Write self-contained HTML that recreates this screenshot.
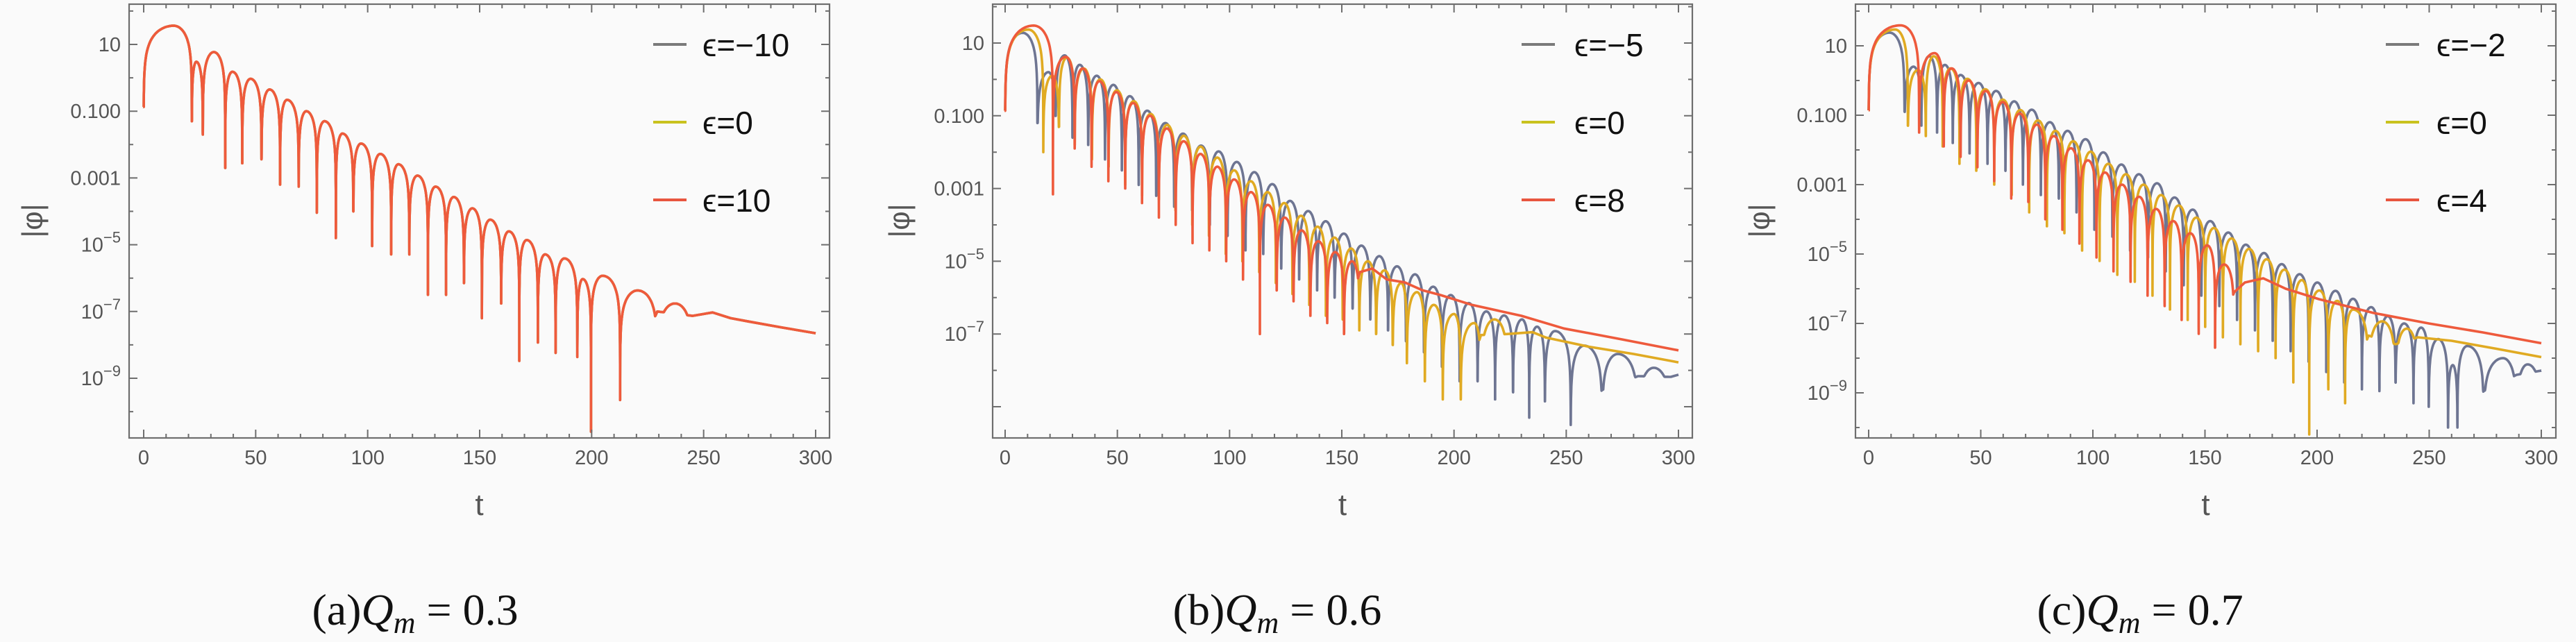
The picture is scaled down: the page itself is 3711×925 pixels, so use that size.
<!DOCTYPE html>
<html><head><meta charset="utf-8"><style>
html,body{margin:0;padding:0;background:#fafafa;}
svg{display:block;}
</style></head><body>
<svg id="fig" xmlns="http://www.w3.org/2000/svg" width="3711" height="925" viewBox="0 0 3711 925">
<rect x="0" y="0" width="3711" height="925" fill="#fafafa"/>
<g font-family="'Liberation Serif', serif" font-size="64" fill="#111" text-anchor="middle">
<text x="598" y="900">(a)<tspan font-style="italic">Q</tspan><tspan font-style="italic" font-size="44" dy="12">m</tspan><tspan dy="-12"> = 0.3</tspan></text></g>
<g font-family="'Liberation Serif', serif" font-size="64" fill="#111" text-anchor="middle">
<text x="1840" y="900">(b)<tspan font-style="italic">Q</tspan><tspan font-style="italic" font-size="44" dy="12">m</tspan><tspan dy="-12"> = 0.6</tspan></text></g>
<g font-family="'Liberation Serif', serif" font-size="64" fill="#111" text-anchor="middle">
<text x="3083" y="900">(c)<tspan font-style="italic">Q</tspan><tspan font-style="italic" font-size="44" dy="12">m</tspan><tspan dy="-12"> = 0.7</tspan></text></g>
</svg>
<script>
// ---------- data (t, log10|phi|) ----------
// Panel a (all three eps overlap)
const aZeroT=[0,21.5,26.4,36.4,44,52.6,60.9,69.2,77.3,85.8,93.6,102,110.5,118.6,126.9,135,143,151,159.6,167.7,176,183.9,193.6,199.7,212.7,229.3,245];
const aDipV=[-0.87,-1.3,-1.7,-2.7,-2.56,-2.44,-3.2,-3.26,-4.04,-4.8,-4.0,-5.04,-5.29,-5.29,-6.5,-6.5,-6.15,-7.2,-6.76,-8.48,-7.93,-8.24,-8.36,-10.6,-9.65,-7.0,-7.13];
const aPeakT=[13.4,23.5,31.3,39.6,47.7,56.2,64,72.6,80.7,88.7,97,105.6,113.7,122.2,130.3,138.4,146.7,154.7,163,171,179.2,187.8,196,204.9,220.5,237.2];
const aPeakV=[1.56,0.48,0.77,0.18,-0.03,-0.35,-0.66,-1.0,-1.3,-1.67,-1.97,-2.28,-2.59,-2.93,-3.26,-3.57,-3.91,-4.25,-4.6,-4.86,-5.29,-5.41,-6.03,-5.93,-6.37,-6.76];
const aTailT=[245,254,262,270,285,300];
const aTailV=[-7.13,-7.03,-7.2,-7.3,-7.48,-7.65];

// Panel b, eps=-5
const bGZeroT=[0,14.4,22.5,30,37,44.5,52,59.5,67.3,75.3,83.3,91.2,99.1,107.1,115,123,131,139,146.8,154.8,162.7,170.6,178.6,186.6,194.6,202.5,210.5,218.3,226.3,233.5,240.5,252,266,282,296.6];
const bGDipV=[-0.86,-1.2,-1.0,-1.6,-1.8,-2.2,-2.5,-2.9,-3.2,-3.5,-3.6,-4.0,-4.3,-4.7,-4.8,-5.2,-5.5,-5.8,-6.0,-6.3,-6.6,-6.9,-7.2,-7.5,-7.9,-8.3,-8.3,-8.8,-8.6,-9.3,-8.85,-9.5,-8.54,-8.16,-8.18];
const bGPeakT=[7.8,19.3,26.5,33.2,40.8,48.2,55.5,63.3,71.4,79.2,87.3,95.1,103.2,111,119,126.9,135,142.8,150.9,158.7,166.7,174.6,182.6,190.7,198.5,206.6,214.4,222.3,230.3,237,245,258,273,289];
const bGPeakV=[1.28,0.2,0.66,0.4,0.1,-0.15,-0.46,-0.86,-1.2,-1.49,-1.82,-1.98,-2.27,-2.55,-2.88,-3.34,-3.62,-3.9,-4.24,-4.57,-4.86,-5.14,-5.36,-5.7,-5.93,-6.15,-6.38,-6.49,-6.6,-6.8,-6.92,-7.32,-7.55,-7.93];
const bGTailT=[296.6,300];
const bGTailV=[-8.18,-8.12];
// Panel b, eps=0
const bYZeroT=[0,17,24,31,38.7,46.1,53.5,61,68.5,75.9,83.4,90.8,98.3,105.7,113.2,120.6,128,135.5,142.9,150.4,157.8,165.3,172.7,179,187,195,203,212,224];
const bYDipV=[-0.86,-2.0,-1.3,-1.8,-2.2,-2.4,-2.9,-3.2,-3.3,-3.6,-4.0,-4.3,-4.8,-5.0,-5.3,-5.6,-5.9,-6.2,-6.5,-6.6,-6.9,-7.0,-7.3,-7.8,-8.3,-8.8,-8.8,-7.03,-7.0];
const bYPeakT=[10.3,21,27.5,35,42.4,49.8,57.3,64.8,72.2,79.6,87.1,94.5,102,109.4,116.9,124.3,131.8,139.2,146.7,154.1,161.6,169,176.5,183.5,191,200,209,218];
const bYPeakV=[1.37,0.1,0.6,0.3,0.0,-0.3,-0.6,-0.95,-1.25,-1.55,-1.85,-2.15,-2.5,-2.8,-3.1,-3.4,-3.75,-4.05,-4.35,-4.65,-5.0,-5.25,-5.6,-5.85,-6.2,-6.45,-6.7,-6.6];
const bYTailT=[224,235,241,260,280,300];
const bYTailV=[-7.0,-6.95,-7.1,-7.35,-7.55,-7.78];
// Panel b, eps=8
const bRZeroT=[0,21.3,31,38.5,46,53.5,61,68.5,76,83.5,91,98.5,106,113.5,121,128.5,136,143.5,151,158];
const bRDipV=[-0.86,-3.16,-1.9,-2.4,-2.8,-3.0,-3.4,-3.8,-4.0,-4.5,-4.7,-5.0,-5.5,-7.0,-5.8,-6.1,-6.5,-6.7,-7.0,-5.3];
const bRPeakT=[12.7,27,34.5,42,49.5,57,64.5,72,79.5,87,94.5,102,109.5,117,124.5,132,139.5,147,154.5];
const bRPeakV=[1.48,0.62,0.3,-0.05,-0.35,-0.65,-1.0,-1.35,-1.7,-2.05,-2.4,-2.75,-3.1,-3.45,-3.8,-4.15,-4.45,-4.75,-5.0];
const bRTailT=[158,163.6,170,178,186,194,208,230,249,275,300];
const bRTailV=[-5.3,-5.2,-5.5,-5.58,-5.8,-5.93,-6.2,-6.5,-6.85,-7.15,-7.45];

// Panel c, eps=-2
const cGZeroT=[0,16,23.5,30.5,37.5,45,53,61,68.8,76.8,84.8,92.7,100.7,108.7,116.6,124.6,132.5,140.5,148.4,156.4,164.3,172.3,180.2,188.2,196.2,204.1,212.1,220,227.8,235,243,249.8,258.4,262.6,274.3,289,300];
const cGDipV=[-0.86,-0.9,-1.3,-1.5,-1.8,-2.1,-2.4,-2.6,-3.0,-3.3,-3.4,-3.8,-4.3,-4.5,-4.9,-5.1,-5.5,-5.9,-6.2,-6.5,-6.9,-7.2,-7.5,-7.8,-8.1,-8.4,-8.7,-8.9,-8.95,-8.7,-9.3,-9.4,-10.0,-10.0,-8.95,-8.48,-8.36];
const cGPeakT=[9.3,20,27,34,41,49,56.8,64.9,72.7,80.8,88.7,96.7,104.6,112.7,120.5,128.6,136.4,144.5,152.3,160.4,168.2,176.3,184.2,192.2,200.1,208.2,216,224.1,231.5,238.8,246.4,254,260.5,267,282.9,293.9];
const cGPeakV=[1.38,0.4,0.7,0.45,0.16,-0.07,-0.3,-0.6,-0.84,-1.2,-1.45,-1.69,-2.07,-2.42,-2.7,-2.96,-3.37,-3.72,-4.05,-4.38,-4.73,-4.97,-5.29,-5.58,-5.82,-6.06,-6.29,-6.53,-6.79,-7.0,-7.12,-7.45,-8.2,-7.65,-8.0,-8.18];
const cGTailT=[300];
const cGTailV=[-8.36];
// Panel c, eps=0
const cYZeroT=[0,17.5,25.5,33,40.5,48,56,63.8,71.6,79.5,87.3,95.2,103,110.9,118.7,126.6,134.4,142.3,150.1,158,165.8,173.7,181.5,189.4,196.5,205,212.5,222.9,235,245];
const cYDipV=[-0.86,-1.3,-1.6,-1.9,-2.4,-2.6,-3.0,-3.3,-3.8,-4.2,-4.4,-4.9,-5.2,-5.6,-5.8,-6.2,-6.6,-6.9,-7.1,-7.4,-7.6,-7.8,-8.0,-8.7,-10.2,-8.9,-9.3,-7.35,-7.6,-7.4];
const cYPeakT=[11.8,22,29,36.5,44,52,59.8,67.6,75.5,83.3,91.2,99,106.9,114.7,122.6,130.4,138.3,146.1,154,161.8,169.7,177.5,185.4,193.2,201,209,216,229,240];
const cYPeakV=[1.47,0.3,0.7,0.35,0.05,-0.25,-0.55,-0.85,-1.15,-1.45,-1.75,-2.05,-2.4,-2.7,-3.0,-3.3,-3.6,-3.95,-4.25,-4.55,-4.85,-5.15,-5.45,-5.75,-6.05,-6.35,-6.6,-6.94,-7.15];
const cYTailT=[245,260,280,300];
const cYTailV=[-7.4,-7.5,-7.73,-7.97];
// Panel c, eps=4
const cRZeroT=[0,22.5,33.5,41,48.5,56,63.6,71.2,78.8,86.4,94,101.6,109.2,116.8,124.4,132,139.6,147.2,154.5,163];
const cRDipV=[-0.86,-1.5,-1.9,-2.2,-2.5,-2.9,-3.4,-3.5,-4.0,-4.3,-4.7,-5.1,-5.5,-5.8,-6.2,-6.5,-6.9,-7.3,-7.7,-6.1];
const cRPeakT=[14.2,29.4,37,44.6,52.2,59.8,67.4,75,82.6,90.2,97.8,105.4,113,120.6,128.2,135.8,143.4,151,158.5];
const cRPeakV=[1.59,0.79,0.35,0.0,-0.3,-0.62,-0.95,-1.27,-1.6,-1.95,-2.3,-2.65,-3.0,-3.35,-3.7,-4.05,-4.4,-4.75,-5.3];
const cRTailT=[163,167.8,176,186,200.8,225.3,249.8,274,300];
const cRTailV=[-6.1,-5.82,-5.7,-6.0,-6.3,-6.7,-7.0,-7.26,-7.57];

const xTicks=[0,50,100,150,200,250,300];
const yTickExp=[1,-1,-3,-5,-7,-9];
const legendA=["ϵ=−10","ϵ=0","ϵ=10"];
const legendB=["ϵ=−5","ϵ=0","ϵ=8"];
const legendC=["ϵ=−2","ϵ=0","ϵ=4"];

// ---------- layout ----------
const NS="http://www.w3.org/2000/svg";
const svg=document.getElementById('fig');
const COLORS=["#6e7592","#e0aa22","#ee5a3c"];
const LEGCOL=["#7a7a7a","#c9c21e","#e8553f"];
const panels=[
 {id:'a',L:186,T:6,R:1195,B:631,x0:207,x1:1175,y1:64,dec:48.1,yLabX:50,legLine:254,legText:183,labels:[1,-1,-3,-5,-7,-9],leg:legendA,
  series:[[aZeroT,aDipV,aPeakT,aPeakV,aTailT,aTailV],[aZeroT,aDipV,aPeakT,aPeakV,aTailT,aTailV],[aZeroT,aDipV,aPeakT,aPeakV,aTailT,aTailV]]},
 {id:'b',L:1430,T:6,R:2438,B:631,x0:1448,x1:2418,y1:62,dec:52.4,yLabX:1299,legLine:246,legText:170,labels:[1,-1,-3,-5,-7],leg:legendB,
  series:[[bGZeroT,bGDipV,bGPeakT,bGPeakV,bGTailT,bGTailV],[bYZeroT,bYDipV,bYPeakT,bYPeakV,bYTailT,bYTailV],[bRZeroT,bRDipV,bRPeakT,bRPeakV,bRTailT,bRTailV]]},
 {id:'c',L:2673,T:6,R:3682,B:631,x0:2692,x1:3661,y1:66,dec:50,yLabX:2538,legLine:245,legText:172,labels:[1,-1,-3,-5,-7,-9],leg:legendC,
  series:[[cGZeroT,cGDipV,cGPeakT,cGPeakV,cGTailT,cGTailV],[cYZeroT,cYDipV,cYPeakT,cYPeakV,cYTailT,cYTailV],[cRZeroT,cRDipV,cRPeakT,cRPeakV,cRTailT,cRTailV]]}
];
function mk(tag,parent){const e=document.createElementNS(NS,tag);parent.appendChild(e);return e;}

panels.forEach(p=>{
 const xs=t=>p.x0+(t/300)*(p.x1-p.x0);
 const ys=v=>p.y1+(1-v)*p.dec;
 const g=mk('g',svg);
 
 
 const defs=mk('defs',g);
 const cp=mk('clipPath',defs);cp.setAttribute('id','clip-'+p.id);
 const cr=mk('rect',cp);cr.setAttribute('x',p.L);cr.setAttribute('y',p.T);cr.setAttribute('width',p.R-p.L);cr.setAttribute('height',p.B-p.T);
 // series
 const sg=mk('g',g);sg.setAttribute('clip-path','url(#clip-'+p.id+')');
 
 
 p.series.forEach((s,si)=>{
  const [Z,D,PT,PV,TT,TV]=s;
  const pts=[];
  for(let i=0;i<PT.length;i++){
   const a=Z[i],b=Z[i+1],m=PT[i],pk=PV[i],fa=D[i],fb=D[i+1];
   const N=30;
   for(let k=0;k<=N;k++){
    const sN=k/N;const t=a+(m-a)*(1-Math.cos(sN*Math.PI/2));
    const u=0.5*(t-a)/(m-a);
    let v=pk+Math.log10(Math.max(Math.sin(Math.PI*u),1e-14));
    const fl=fa+(fb-fa)*(t-a)/(b-a);v=Math.max(v,fl);pts.push([t,v]);
   }
   for(let k=1;k<=N;k++){
    const sN=k/N;const t=m+(b-m)*Math.sin(sN*Math.PI/2);
    const u=0.5+0.5*(t-m)/(b-m);
    let v=pk+Math.log10(Math.max(Math.sin(Math.PI*u),1e-14));
    const fl=fa+(fb-fa)*(t-a)/(b-a);v=Math.max(v,fl);pts.push([t,v]);
   }
  }
  for(let k=0;k<TT.length;k++)pts.push([TT[k],TV[k]]);
  const d=pts.map((q,i)=>(i?'L':'M')+xs(q[0]).toFixed(1)+' '+ys(q[1]).toFixed(1)).join('');
  const path=mk('path',sg);
  path.setAttribute('d',d);path.setAttribute('fill','none');
  path.setAttribute('stroke',COLORS[si]);path.setAttribute('stroke-width','3.6');
  path.setAttribute('stroke-linejoin','round');
  
  
 });
 // frame
 const fr=mk('rect',g);
 fr.setAttribute('x',p.L);fr.setAttribute('y',p.T);fr.setAttribute('width',p.R-p.L);fr.setAttribute('height',p.B-p.T);
 fr.setAttribute('fill','none');fr.setAttribute('stroke','#6e6e6e');fr.setAttribute('stroke-width','2.2');
 
 
 // ticks
 const tg=mk('g',g);tg.setAttribute('stroke','#6e6e6e');tg.setAttribute('stroke-width','2');
 
 
 let td='';
 for(let t=0;t<=300;t+=10){const x=xs(t);const len=(t%50===0)?12:6;td+=`M${x} ${p.B}V${p.B-len}M${x} ${p.T}V${p.T+len}`;}
 for(let e=2;e>=-11;e--){const y=ys(e);if(y<p.T||y>p.B)continue;const len=(Math.abs(e)%2===1)?12:6;td+=`M${p.L} ${y}H${p.L+len}M${p.R} ${y}H${p.R-len}`;}
 const tp=mk('path',tg);tp.setAttribute('d',td);
 // x tick labels
 xTicks.forEach(t=>{
  const tx=mk('text',g);tx.textContent=String(t);
  tx.setAttribute('x',xs(t));tx.setAttribute('y',p.B+38);
  tx.setAttribute('text-anchor','middle');tx.setAttribute('font-family',"'Liberation Sans', sans-serif");
  tx.setAttribute('font-size','29');tx.setAttribute('fill','#555');
  
  
 });
 // y tick labels
 yTickExp.forEach(e=>{
  if(p.labels.indexOf(e)<0)return;
  const tx=mk('text',g);
  tx.setAttribute('x',p.L-12);tx.setAttribute('y',ys(e)+10);
  tx.setAttribute('text-anchor','end');tx.setAttribute('font-family',"'Liberation Sans', sans-serif");
  tx.setAttribute('font-size','29');tx.setAttribute('fill','#555');
  
  
  if(e===1)tx.textContent='10';
  else if(e===-1)tx.textContent='0.100';
  else if(e===-3)tx.textContent='0.001';
  else{
   tx.textContent='10';
   const sp=mk('tspan',tx);sp.textContent='−'+(-e);sp.setAttribute('font-size','22');sp.setAttribute('dy','-13');
  }
 });
 // axis labels
 const xl=mk('text',g);xl.textContent='t';
 xl.setAttribute('x',(p.L+p.R)/2);xl.setAttribute('y',742);xl.setAttribute('text-anchor','middle');
 xl.setAttribute('font-family',"'Liberation Sans', sans-serif");xl.setAttribute('font-size','44');xl.setAttribute('fill','#555');
 
 
 const yl=mk('text',g);yl.textContent='|φ|';
 const cy=318;
 yl.setAttribute('x',p.yLabX);yl.setAttribute('y',cy);yl.setAttribute('text-anchor','middle');
 yl.setAttribute('dominant-baseline','middle');
 yl.setAttribute('transform',`rotate(-90 ${p.yLabX} ${cy})`);
 yl.setAttribute('font-family',"'Liberation Sans', 'DejaVu Sans', sans-serif");yl.setAttribute('font-size','42');yl.setAttribute('fill','#555');
 
 
 // legend
 const lg=mk('g',g);
 
 
 const rows=[64,176,288];
 p.leg.forEach((lab,i)=>{
  const ln=mk('line',lg);
  ln.setAttribute('x1',p.R-p.legLine);ln.setAttribute('x2',p.R-p.legLine+48);
  ln.setAttribute('y1',rows[i]);ln.setAttribute('y2',rows[i]);
  ln.setAttribute('stroke',LEGCOL[i]);ln.setAttribute('stroke-width','4');
  
  
  const tx=mk('text',lg);tx.textContent=lab;
  tx.setAttribute('x',p.R-p.legText);tx.setAttribute('y',rows[i]+17);
  tx.setAttribute('font-family',"'Liberation Sans', 'DejaVu Sans', sans-serif");tx.setAttribute('font-size','46');tx.setAttribute('fill','#111');
  
  
 });
});
</script>
</body></html>
